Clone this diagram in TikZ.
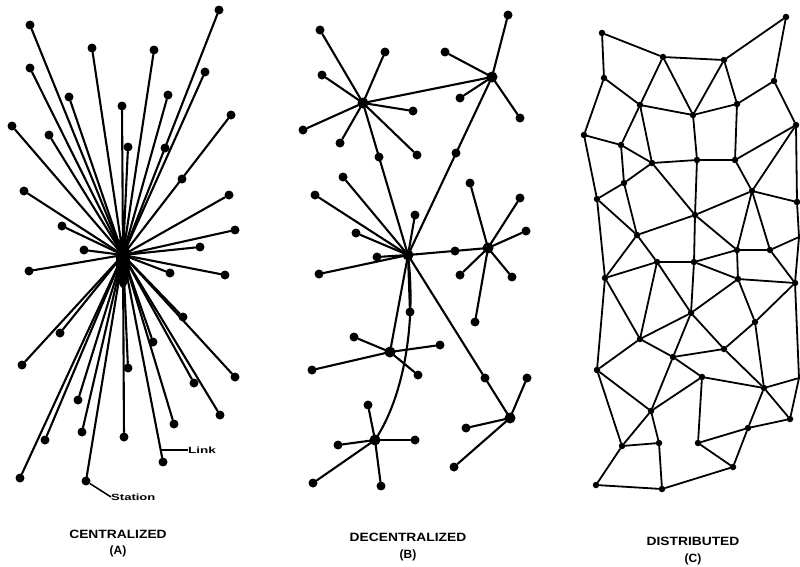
\documentclass[tikz,border=0pt]{standalone}
\usepackage{fontspec}
\setmainfont{Liberation Sans}
\newcommand\capwide[1]{\scalebox{1.15}[1]{#1}}
\begin{document}
\begin{tikzpicture}[x=1pt,y=-1pt,
  ln/.style={line width=2.1pt,line cap=round},
  mesh/.style={line width=1.8pt,line cap=round},
  st/.style={circle,fill,inner sep=0pt,minimum size=9pt},
  ms/.style={circle,fill,inner sep=0pt,minimum size=6.5pt},
  hub/.style={circle,fill,inner sep=0pt,minimum size=11pt},
  captxt/.style={font=\bfseries\fontsize{12}{13}\selectfont,inner sep=0pt},
  lab/.style={font=\bfseries\fontsize{9}{10}\selectfont,inner sep=0pt}]
\useasboundingbox (0,0) rectangle (800,566);

% ---------------- (A) centralized ----------------
\node[hub] (A) at (123,255) {};
\foreach \n/\x/\y in {c01/30/25, c02/92/48, c03/154/50, c04/219/10, c05/205/72,
  c06/30/68, c07/69/97, c08/122/106, c09/168/95, c10/231/115, c11/12/126,
  c12/49/135, c13/24/191, c14/62/226, c15/229/195, c16/235/230, c17/200/247,
  c18/84/250, c19/29/271, c20/170/273, c21/225/275, c22/183/317, c23/60/333,
  c24/22/365, c25/128/368, c26/235/377, c27/194/383, c28/220/415, c29/174/424,
  c30/78/400, c31/82/432, c32/45/440, c33/124/437, c34/163/462, c35/20/478,
  c36/86/481, c37/128/147, c38/153/342}
  {\node[st] (\n) at (\x,\y) {};
   \draw[ln] (A.center) -- (\n);}
\node[st] (cm1) at (182,179) {};
\node[st] (cm2) at (165,148) {};
\fill (123,262) ellipse (7 and 26);
% labels Link / Station
\coordinate (lk) at (161,450);
\node[lab,anchor=west] (linkt) at (188,450) {\scalebox{1.5}[1]{Link}};
\draw[line width=1.2pt] (lk) -- (linkt.west);
\node[lab,anchor=west] (stat) at (111,497) {\scalebox{1.45}[1]{Station}};
\draw[line width=1.5pt] (c36) -- (stat.west);
\node[captxt] (tA) at (118,534) {\capwide{CENTRALIZED}};
\node[captxt] (tA2) at (118,551) {(A)};

% ---------------- (B) decentralized ----------------
\foreach \n/\x/\y in {D1/363/103, D2/492/77, DB/408/255, D3/488/248,
  D4/390/352, D5/375/440, D6/510/418}
  {\node[hub] (\n) at (\x,\y) {};}
\foreach \h/\n/\x/\y in {D1/d1a/320/30, D1/d1b/385/52, D1/d1c/322/75, D1/d1d/413/111,
  D1/d1e/303/130, D1/d1f/340/143, D1/d1g/417/155,
  D2/d2a/508/15, D2/d2b/445/52, D2/d2c/520/118, D2/d2d/460/98,
  DB/dba/315/195, DB/dbb/343/177, DB/dbc/415/215, DB/dbd/356/233, DB/dbe/319/274,
  DB/dbf/377/257, DB/dbg/410/312,
  D3/d3a/470/183, D3/d3b/520/198, D3/d3c/526/231, D3/d3d/460/275, D3/d3e/512/277,
  D3/d3f/475/322,
  D4/d4a/354/337, D4/d4b/440/345, D4/d4c/312/370, D4/d4d/418/375,
  D5/d5a/368/405, D5/d5b/338/445, D5/d5c/415/440, D5/d5d/313/483, D5/d5e/381/486,
  D6/d6a/527/378, D6/d6b/466/428, D6/d6c/454/467}
  {\node[st] (\n) at (\x,\y) {};
   \draw[ln] (\h.center) -- (\n);}
\foreach \a/\b in {D1/D2, D1/DB, D2/DB, DB/D3, DB/D4, DB/D6}
  {\draw[ln] (\a.center) -- (\b.center);}
\draw[ln] (DB.center) .. controls (416,320) and (405,395) .. (D5.center);
\node[st] (x1) at (379,157) {};
\node[st] (x2) at (456,153) {};
\node[st] (x3) at (455,251) {};
\node[st] (x4) at (485,378) {};
\node[captxt] (tB) at (408,537) {\capwide{DECENTRALIZED}};
\node[captxt] (tB2) at (408,555) {(B)};

% ---------------- (C) distributed ----------------
\foreach \n/\x/\y in {a1/602/33, a2/663/57, a3/724/60, a4/786/17,
  b1/604/78, b2/640/105, b3/693/115, b4/737/104, b5/774/81, b6/796/125,
  c1/584/135, c2/621/145, c3/652/163, c4/697/160, c5/735/160,
  d1/624/183, d2/752/191, d3/797/202, e1/597/199, e2/695/215, f1/637/235,
  p1/737/250, p2/770/250, g1/605/278, g2/657/262, g3/694/262, g4/738/279,
  g5/795/283, h1/691/313, h2/755/322, i1/640/339, i2/673/357, i3/724/349,
  j1/597/370, j2/702/377, j3/764/388, k1/651/411, k2/790/419, k3/748/428,
  l1/622/446, l2/659/443, l3/698/443, l4/733/467, m1/596/485, m2/662/489}
  {\node[ms] (q\n) at (\x,\y) {};}
\coordinate (qr1) at (799,237);
\coordinate (qr2) at (799,378);
\foreach \a/\b in {a1/a2, a2/a3, a3/a4, a1/b1, a2/b2, a2/b3, a3/b3, a3/b4, a4/b5,
  b1/b2, b1/c1, b2/b3, b3/b4, b4/b5, b5/b6, b2/c2, b2/c3, b3/c4, b4/c5, c1/c2,
  c2/c3, c2/d1, c3/c4, c3/d1, c3/e2, c4/c5, c4/e2, c5/b6, c5/d2, b6/d2, b6/d3,
  d2/d3, d2/e2, d2/p1, d2/p2, c1/e1, d1/e1, d1/f1, e1/f1, e1/g1, e2/f1, e2/g3,
  e2/p1, f1/g1, f1/g2, p1/p2, p1/g3, p1/g4, p2/g5, p2/r1, d3/r1, r1/g5, g5/r2,
  g1/g2, g1/i1, g1/j1, g2/g3, g2/h1, g2/i1, g3/g4, g3/h1, g4/g5, g4/h1, g4/h2,
  g5/h2, h1/i1, h1/i2, h1/i3, i3/j3, h2/i3, h2/j3, i1/i2, i1/j1, i2/i3, i2/j2,
  i2/k1, j1/k1, j1/l1, j2/j3, j2/k1, j2/l3, j3/k2, j3/k3, j3/r2, r2/k2, k2/k3,
  k1/l1, k1/l2, k3/l3, k3/l4, l1/l2, l1/m1, l2/m2, l3/l4, l4/m2, m1/m2}
  {\draw[mesh] (q\a) -- (q\b);}
\node[captxt] (tC) at (693,541) {\capwide{DISTRIBUTED}};
\node[captxt] (tC2) at (693,559) {(C)};
\end{tikzpicture}
\end{document}
